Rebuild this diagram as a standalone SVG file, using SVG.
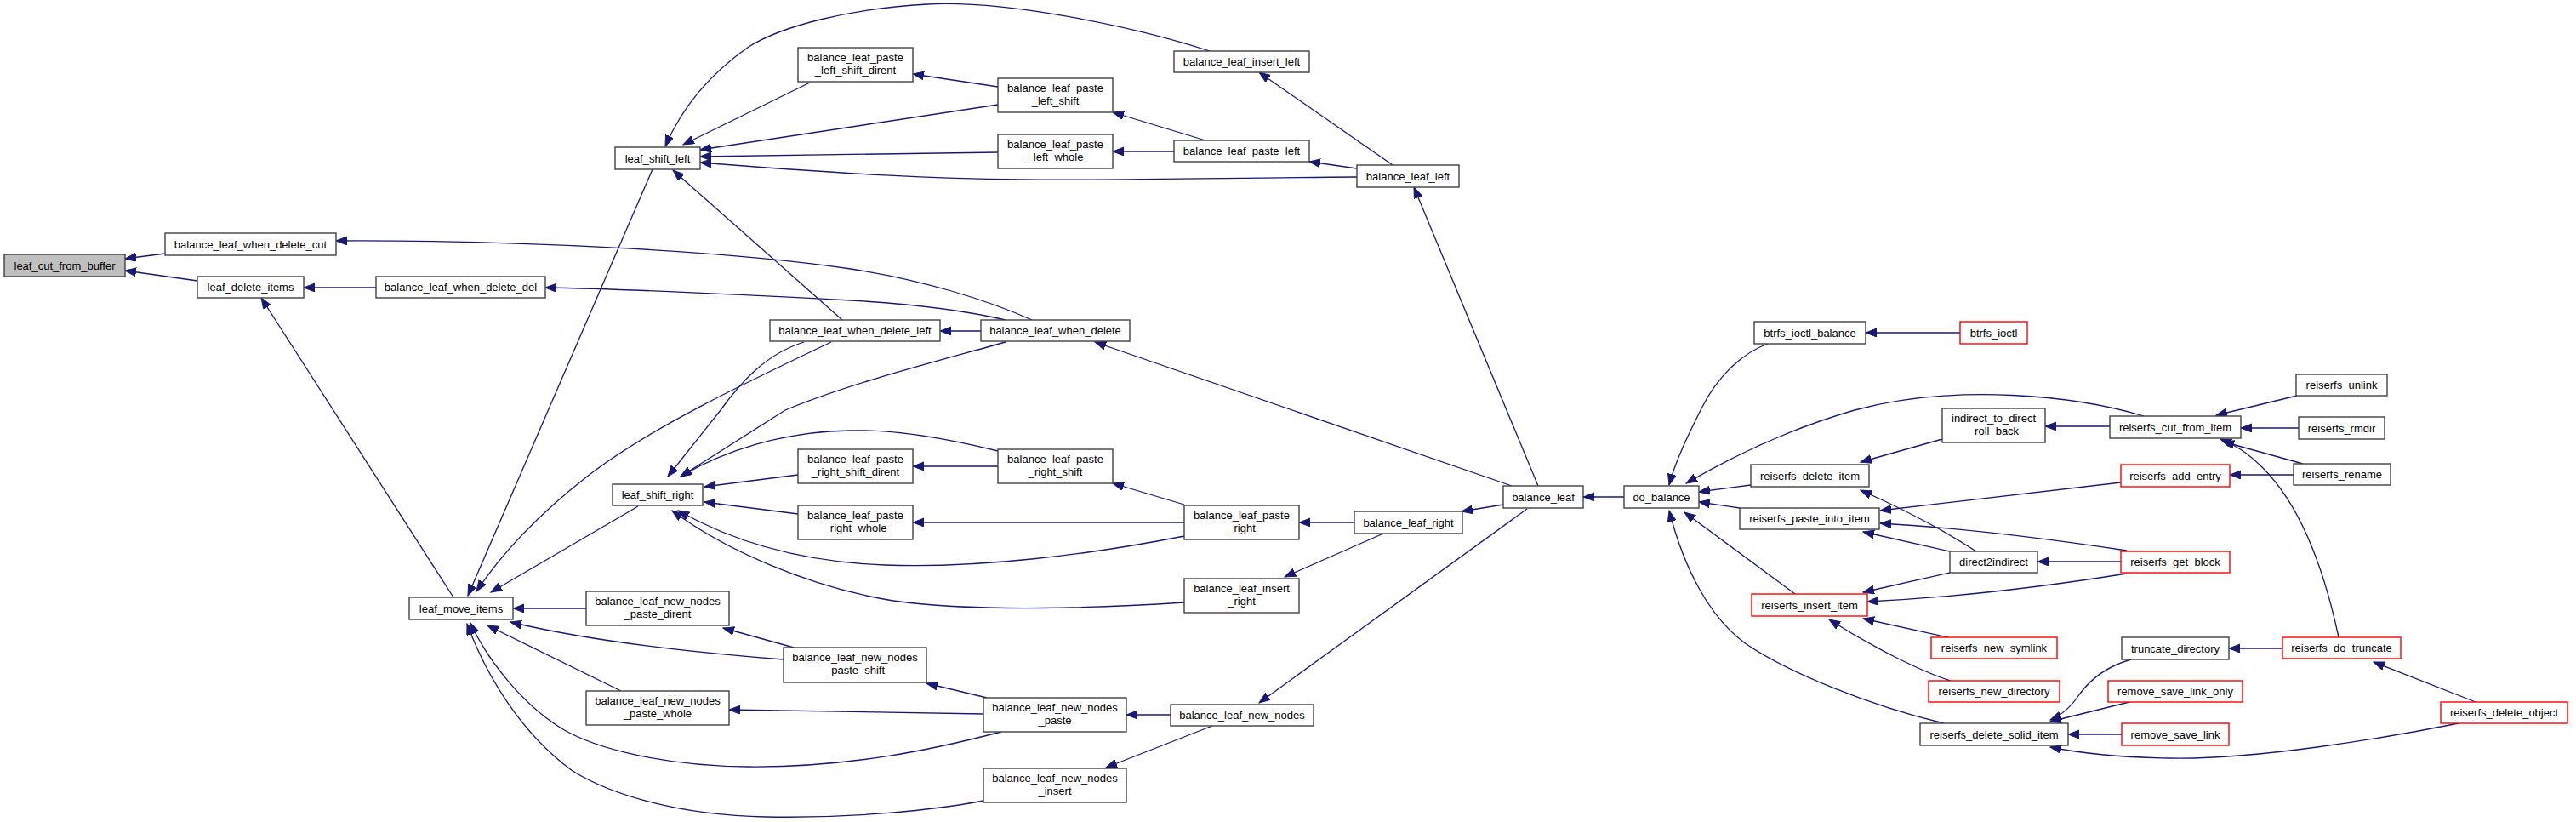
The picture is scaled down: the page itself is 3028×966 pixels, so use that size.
<svg xmlns="http://www.w3.org/2000/svg" width="3028" height="966" viewBox="0 0 3028 966">
<style>
.n rect{fill:#fff;stroke:#404040;stroke-width:1.4}
.n.r rect{stroke:#ff0000}
.n.g rect{fill:#bfbfbf}
.n text{font-family:"Liberation Sans",Arial,sans-serif;font-size:13px;fill:#000;text-anchor:middle}
#edges path{fill:none;stroke:#191970;stroke-width:1.3;marker-end:url(#ah)}
</style>
<defs>
<marker id="ah" markerUnits="userSpaceOnUse" markerWidth="14" markerHeight="11" refX="13" refY="5" orient="auto">
<path d="M0,0 L13,5 L0,10 z" fill="#191970" stroke="#191970" stroke-width="1"/>
</marker>
</defs>
<rect width="3028" height="966" fill="#fff"/>
<g id="edges">
<path d="M194,298 L147,304"/>
<path d="M232,330 L147,318"/>
<path d="M442,338 L357,338"/>
<path d="M533,702 L307,350"/>
<path d="M1213,376 C1160,352 1080,328 1000,316 C850,294 600,282 395,283"/>
<path d="M1182,376 C1130,364 1070,357 1000,353 C850,345 700,339 641,338"/>
<path d="M990,376 L791,200"/>
<path d="M767,199 L550,700"/>
<path d="M1422,60 C1330,30 1180,0 1090,5 C1000,10 920,30 880,55 C830,90 800,130 782,172"/>
<path d="M952,97 L803,170"/>
<path d="M1173,123 L823,176"/>
<path d="M1173,179 L823,184"/>
<path d="M1595,208 C1450,209 1300,212 1200,211 C1100,210 1000,205 823,191"/>
<path d="M1173,102 L1073,87"/>
<path d="M1417,165 L1308,132"/>
<path d="M1380,178 L1308,178"/>
<path d="M1637,194 L1480,85"/>
<path d="M1595,198 L1539,190"/>
<path d="M1808,571 L1662,220"/>
<path d="M1777,571 L1287,402"/>
<path d="M1153,389 L1105,389"/>
<path d="M1767,593 L1718,601"/>
<path d="M1795,598 L1480,826"/>
<path d="M1909,584 L1861,584"/>
<path d="M1592,614 L1527,614"/>
<path d="M1626,627 L1510,678"/>
<path d="M1392,593 L1308,568"/>
<path d="M1392,614 L1073,614"/>
<path d="M1392,630 C1280,652 1150,668 1040,664 C930,660 850,630 797,600"/>
<path d="M1173,548 L1073,548"/>
<path d="M938,558 L828,572"/>
<path d="M938,604 L828,590"/>
<path d="M1392,708 C1300,714 1150,720 1050,706 C950,690 850,645 790,600"/>
<path d="M1173,530 C1100,512 1040,505 1000,506 C920,507 850,530 800,560"/>
<path d="M750,595 L577,696"/>
<path d="M977,402 C880,448 760,505 690,560 C630,607 590,650 560,695"/>
<path d="M945,402 C900,416 870,450 847,482 L785,560"/>
<path d="M1182,402 C1100,425 1000,450 923,482 L800,560"/>
<path d="M689,715 L603,715"/>
<path d="M933,761 L850,738"/>
<path d="M921,775 C830,768 700,755 600,731"/>
<path d="M730,812 L573,735"/>
<path d="M1156,839 L857,834"/>
<path d="M1160,820 L1089,803"/>
<path d="M1177,860 C1100,880 1000,902 880,901 C780,900 700,880 660,856 C610,825 570,770 553,732"/>
<path d="M1156,941 C1100,952 1000,962 900,960 C800,958 720,935 673,906 C610,860 570,790 549,733"/>
<path d="M1376,840 L1324,840"/>
<path d="M1425,853 L1300,902"/>
<path d="M2078,404 C2050,414 2020,440 2000,480 C1985,510 1970,540 1962,570"/>
<path d="M2304,391 L2193,391"/>
<path d="M2520,489 C2440,465 2300,450 2180,482 C2100,505 2030,540 1982,568"/>
<path d="M2058,570 L1997,578"/>
<path d="M2045,597 L1997,590"/>
<path d="M2110,698 L1980,602"/>
<path d="M2285,850 C2200,830 2100,790 2050,755 C2010,725 1980,670 1962,600"/>
<path d="M2283,516 L2187,543"/>
<path d="M2323,648 C2280,620 2230,595 2187,576"/>
<path d="M2493,567 L2210,600"/>
<path d="M2500,647 C2400,632 2300,620 2210,615"/>
<path d="M2292,648 L2190,625"/>
<path d="M2292,673 L2190,696"/>
<path d="M2500,674 C2400,690 2300,702 2195,707"/>
<path d="M2290,749 L2190,727"/>
<path d="M2293,800 C2260,790 2200,760 2150,728"/>
<path d="M2493,660 L2395,660"/>
<path d="M2480,501 L2404,501"/>
<path d="M2505,775 C2480,782 2460,795 2445,815 C2435,830 2425,840 2410,846"/>
<path d="M2503,825 L2410,848"/>
<path d="M2494,863 L2431,863"/>
<path d="M2890,850 C2800,868 2650,893 2550,891 C2490,890 2440,884 2410,878"/>
<path d="M2700,465 L2605,488"/>
<path d="M2702,503 L2634,503"/>
<path d="M2707,545 L2613,519"/>
<path d="M2749,749 C2730,660 2700,590 2660,550 C2640,530 2625,522 2610,516"/>
<path d="M2696,558 L2621,558"/>
<path d="M2683,762 L2620,762"/>
<path d="M2910,825 L2790,778"/>
</g>
<g id="n0" class="n g"><rect x="5" y="299" width="142" height="26"/><text x="76" y="316.5">leaf_cut_from_buffer</text></g>
<g id="n1" class="n"><rect x="194" y="274" width="201" height="26"/><text x="294.5" y="291.5">balance_leaf_when_delete_cut</text></g>
<g id="n2" class="n"><rect x="232" y="325" width="125" height="25"/><text x="294.5" y="342">leaf_delete_items</text></g>
<g id="n3" class="n"><rect x="442" y="325" width="199" height="25"/><text x="541.5" y="342">balance_leaf_when_delete_del</text></g>
<g id="n4" class="n"><rect x="481" y="702" width="122" height="26"/><text x="542" y="719.5">leaf_move_items</text></g>
<g id="n5" class="n"><rect x="723" y="173" width="100" height="26"/><text x="773" y="190.5">leaf_shift_left</text></g>
<g id="n6" class="n"><rect x="938" y="56" width="135" height="40"/><text x="1005.5" y="72">balance_leaf_paste</text><text x="1005.5" y="87">_left_shift_dirent</text></g>
<g id="n7" class="n"><rect x="905" y="376" width="200" height="25"/><text x="1005" y="393">balance_leaf_when_delete_left</text></g>
<g id="n8" class="n"><rect x="720" y="569" width="106" height="25"/><text x="773" y="586">leaf_shift_right</text></g>
<g id="n9" class="n"><rect x="938" y="528" width="135" height="40"/><text x="1005.5" y="544">balance_leaf_paste</text><text x="1005.5" y="559">_right_shift_dirent</text></g>
<g id="n10" class="n"><rect x="938" y="594" width="135" height="40"/><text x="1005.5" y="610">balance_leaf_paste</text><text x="1005.5" y="625">_right_whole</text></g>
<g id="n11" class="n"><rect x="689" y="695" width="168" height="40"/><text x="773" y="711">balance_leaf_new_nodes</text><text x="773" y="726">_paste_dirent</text></g>
<g id="n12" class="n"><rect x="921" y="761" width="168" height="41"/><text x="1005" y="777">balance_leaf_new_nodes</text><text x="1005" y="792">_paste_shift</text></g>
<g id="n13" class="n"><rect x="689" y="812" width="168" height="40"/><text x="773" y="828">balance_leaf_new_nodes</text><text x="773" y="843">_paste_whole</text></g>
<g id="n14" class="n"><rect x="1173" y="92" width="135" height="40"/><text x="1240.5" y="108">balance_leaf_paste</text><text x="1240.5" y="123">_left_shift</text></g>
<g id="n15" class="n"><rect x="1173" y="158" width="135" height="40"/><text x="1240.5" y="174">balance_leaf_paste</text><text x="1240.5" y="189">_left_whole</text></g>
<g id="n16" class="n"><rect x="1380" y="60" width="159" height="25"/><text x="1459.5" y="77">balance_leaf_insert_left</text></g>
<g id="n17" class="n"><rect x="1380" y="165" width="159" height="25"/><text x="1459.5" y="182">balance_leaf_paste_left</text></g>
<g id="n18" class="n"><rect x="1153" y="376" width="175" height="25"/><text x="1240.5" y="393">balance_leaf_when_delete</text></g>
<g id="n19" class="n"><rect x="1173" y="528" width="135" height="40"/><text x="1240.5" y="544">balance_leaf_paste</text><text x="1240.5" y="559">_right_shift</text></g>
<g id="n20" class="n"><rect x="1392" y="594" width="135" height="40"/><text x="1459.5" y="610">balance_leaf_paste</text><text x="1459.5" y="625">_right</text></g>
<g id="n21" class="n"><rect x="1392" y="680" width="135" height="40"/><text x="1459.5" y="696">balance_leaf_insert</text><text x="1459.5" y="711">_right</text></g>
<g id="n22" class="n"><rect x="1156" y="820" width="168" height="40"/><text x="1240" y="836">balance_leaf_new_nodes</text><text x="1240" y="851">_paste</text></g>
<g id="n23" class="n"><rect x="1156" y="903" width="168" height="40"/><text x="1240" y="919">balance_leaf_new_nodes</text><text x="1240" y="934">_insert</text></g>
<g id="n24" class="n"><rect x="1376" y="828" width="168" height="25"/><text x="1460" y="845">balance_leaf_new_nodes</text></g>
<g id="n25" class="n"><rect x="1595" y="194" width="120" height="26"/><text x="1655" y="211.5">balance_leaf_left</text></g>
<g id="n26" class="n"><rect x="1592" y="601" width="127" height="26"/><text x="1655.5" y="618.5">balance_leaf_right</text></g>
<g id="n27" class="n"><rect x="1767" y="571" width="94" height="26"/><text x="1814" y="588.5">balance_leaf</text></g>
<g id="n28" class="n"><rect x="1909" y="571" width="88" height="26"/><text x="1953" y="588.5">do_balance</text></g>
<g id="n29" class="n"><rect x="2062" y="378" width="131" height="26"/><text x="2127.5" y="395.5">btrfs_ioctl_balance</text></g>
<g id="n30" class="n r"><rect x="2304" y="378" width="79" height="26"/><text x="2343.5" y="395.5">btrfs_ioctl</text></g>
<g id="n31" class="n"><rect x="2283" y="480" width="121" height="40"/><text x="2343.5" y="496">indirect_to_direct</text><text x="2343.5" y="511">_roll_back</text></g>
<g id="n32" class="n"><rect x="2058" y="546" width="139" height="26"/><text x="2127.5" y="563.5">reiserfs_delete_item</text></g>
<g id="n33" class="n"><rect x="2045" y="597" width="164" height="25"/><text x="2127" y="614">reiserfs_paste_into_item</text></g>
<g id="n34" class="n"><rect x="2292" y="648" width="103" height="25"/><text x="2343.5" y="665">direct2indirect</text></g>
<g id="n35" class="n r"><rect x="2059" y="698" width="136" height="26"/><text x="2127" y="715.5">reiserfs_insert_item</text></g>
<g id="n36" class="n r"><rect x="2270" y="749" width="148" height="25"/><text x="2344" y="766">reiserfs_new_symlink</text></g>
<g id="n37" class="n r"><rect x="2267" y="800" width="154" height="25"/><text x="2344" y="817">reiserfs_new_directory</text></g>
<g id="n38" class="n"><rect x="2257" y="850" width="174" height="26"/><text x="2344" y="867.5">reiserfs_delete_solid_item</text></g>
<g id="n39" class="n"><rect x="2480" y="489" width="154" height="26"/><text x="2557" y="506.5">reiserfs_cut_from_item</text></g>
<g id="n40" class="n r"><rect x="2493" y="546" width="128" height="26"/><text x="2557" y="563.5">reiserfs_add_entry</text></g>
<g id="n41" class="n r"><rect x="2493" y="648" width="128" height="25"/><text x="2557" y="665">reiserfs_get_block</text></g>
<g id="n42" class="n"><rect x="2494" y="749" width="126" height="26"/><text x="2557" y="766.5">truncate_directory</text></g>
<g id="n43" class="n r"><rect x="2478" y="800" width="158" height="25"/><text x="2557" y="817">remove_save_link_only</text></g>
<g id="n44" class="n r"><rect x="2494" y="850" width="126" height="26"/><text x="2557" y="867.5">remove_save_link</text></g>
<g id="n45" class="n"><rect x="2699" y="440" width="107" height="25"/><text x="2752.5" y="457">reiserfs_unlink</text></g>
<g id="n46" class="n"><rect x="2702" y="490" width="101" height="26"/><text x="2752.5" y="507.5">reiserfs_rmdir</text></g>
<g id="n47" class="n"><rect x="2696" y="545" width="114" height="25"/><text x="2753" y="562">reiserfs_rename</text></g>
<g id="n48" class="n r"><rect x="2683" y="749" width="139" height="25"/><text x="2752.5" y="766">reiserfs_do_truncate</text></g>
<g id="n49" class="n r"><rect x="2869" y="825" width="149" height="25"/><text x="2943.5" y="842">reiserfs_delete_object</text></g>
</svg>
